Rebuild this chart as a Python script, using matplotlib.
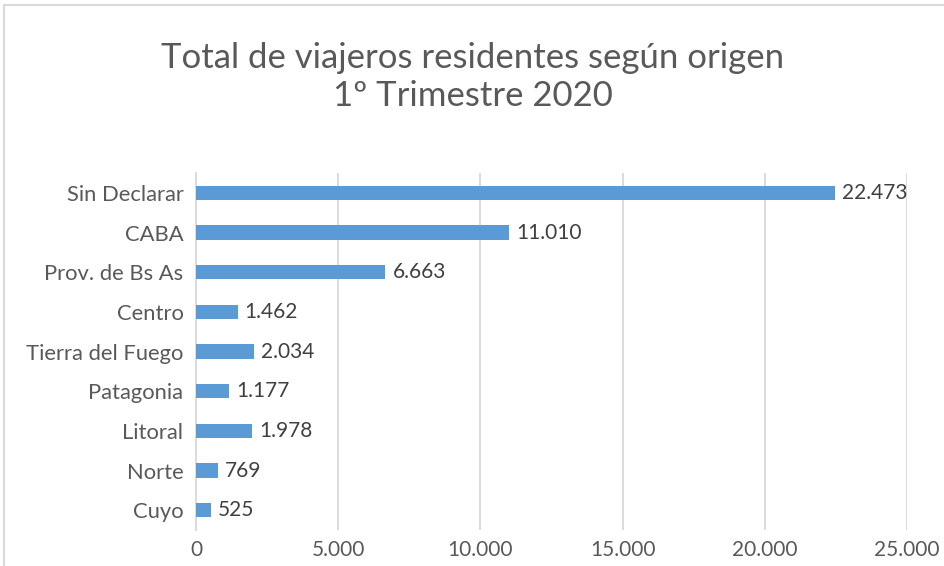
import matplotlib.pyplot as plt
from matplotlib.patches import Rectangle
from matplotlib.ticker import FuncFormatter

# Data
regiones = ['Sin Declarar', 'CABA', 'Prov. de Bs As', 'Centro', 'Tierra del Fuego',
            'Patagonia', 'Litoral', 'Norte', 'Cuyo']
viajeros = [22473, 11010, 6663, 1462, 2034, 1177, 1978, 769, 525]
x_ticks = [0, 5000, 10000, 15000, 20000, 25000]


def miles(v, pos=None):
    return f'{int(v):,}'.replace(',', '.')


plt.rcParams['font.family'] = ['Lato', 'DejaVu Sans']

fig = plt.figure(figsize=(9.45, 5.66), dpi=100)
ax = fig.add_axes([0.2074, 0.0636, 0.7524, 0.6307])

# top bar first
ypos = list(range(len(regiones)))[::-1]
ax.barh(ypos, viajeros, height=0.36, color='#5b9bd5', zorder=3)

for y, v in zip(ypos, viajeros):
    ax.text(v + 250, y, miles(v), va='center', ha='left', fontsize=15, color='#404040')

ax.set_yticks(ypos)
ax.set_yticklabels(regiones, fontsize=15.8, color='#595959')
ax.set_ylim(-0.5, len(regiones) - 0.5)

ax.set_xlim(0, 25000)
ax.set_xticks(x_ticks)
ax.xaxis.set_major_formatter(FuncFormatter(miles))
ax.tick_params(axis='x', labelsize=15, colors='#595959', length=0, pad=7)
ax.tick_params(axis='y', length=0, pad=9)
ax.grid(axis='x', color='#d9d9d9', linewidth=1.3, zorder=0)

for s in ['top', 'right', 'bottom']:
    ax.spines[s].set_visible(False)
ax.spines['left'].set_color('#d9d9d9')
ax.spines['left'].set_linewidth(1.3)

fig.text(0.5, 0.864, 'Total de viajeros residentes según origen\n1º Trimestre 2020',
         ha='center', va='center', fontsize=25, color='#595959',
         linespacing=1.25)

# chart border
fig.patches.append(Rectangle((0.004, -0.05), 1.2, 1.041, transform=fig.transFigure,
                             fill=False, edgecolor='#d9d9d9', linewidth=1.5))

fig.savefig('out.png', dpi=100)
